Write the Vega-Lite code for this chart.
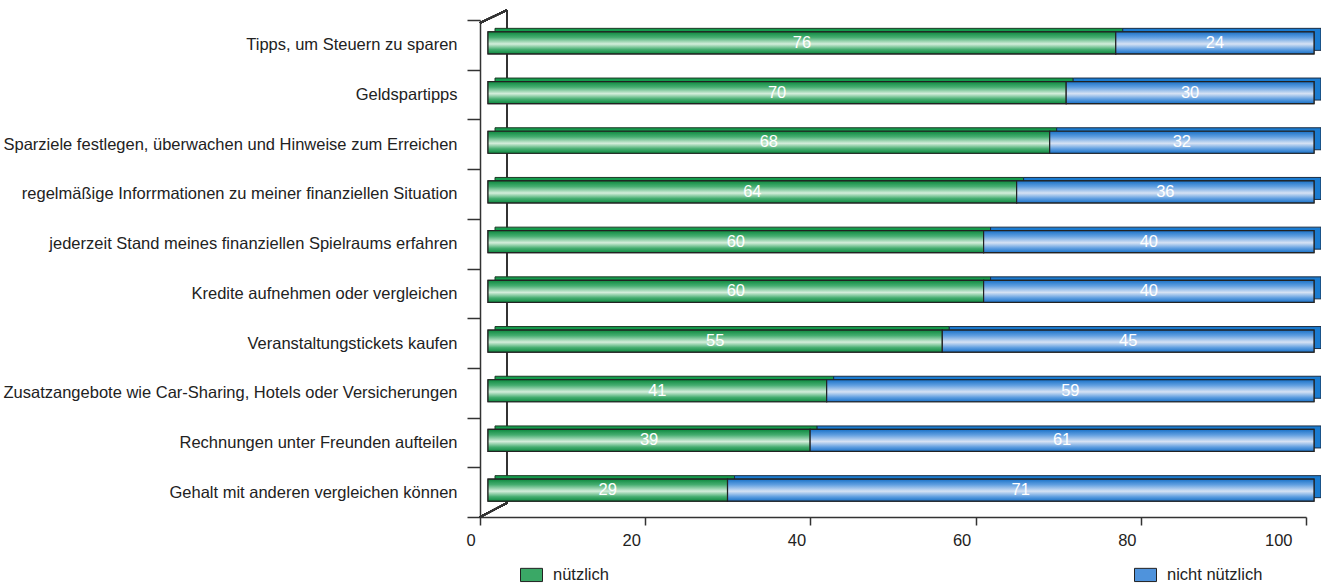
{
  "$schema": "https://vega.github.io/schema/vega-lite/v6.json",
  "width": 826,
  "height": 497,
  "autosize": {"type": "none"},
  "padding": {"left": 480, "top": 20, "right": 15, "bottom": 68},
  "background": "white",
  "config": {
    "view": {"stroke": null},
    "font": "Liberation Sans",
    "axis": {"labelFont": "Liberation Sans", "labelColor": "#222", "domainColor": "#333", "tickColor": "#333", "grid": false, "title": null}
  },
  "data": {
    "values": [
      {"category": "Tipps, um Steuern zu sparen", "series": "nützlich", "value": 76},
      {"category": "Tipps, um Steuern zu sparen", "series": "nicht nützlich", "value": 24},
      {"category": "Geldspartipps", "series": "nützlich", "value": 70},
      {"category": "Geldspartipps", "series": "nicht nützlich", "value": 30},
      {"category": "Sparziele festlegen, überwachen und Hinweise zum Erreichen", "series": "nützlich", "value": 68},
      {"category": "Sparziele festlegen, überwachen und Hinweise zum Erreichen", "series": "nicht nützlich", "value": 32},
      {"category": "regelmäßige Inforrmationen zu meiner finanziellen Situation", "series": "nützlich", "value": 64},
      {"category": "regelmäßige Inforrmationen zu meiner finanziellen Situation", "series": "nicht nützlich", "value": 36},
      {"category": "jederzeit Stand meines finanziellen Spielraums erfahren", "series": "nützlich", "value": 60},
      {"category": "jederzeit Stand meines finanziellen Spielraums erfahren", "series": "nicht nützlich", "value": 40},
      {"category": "Kredite aufnehmen oder vergleichen", "series": "nützlich", "value": 60},
      {"category": "Kredite aufnehmen oder vergleichen", "series": "nicht nützlich", "value": 40},
      {"category": "Veranstaltungstickets kaufen", "series": "nützlich", "value": 55},
      {"category": "Veranstaltungstickets kaufen", "series": "nicht nützlich", "value": 45},
      {"category": "Zusatzangebote wie Car-Sharing, Hotels oder Versicherungen", "series": "nützlich", "value": 41},
      {"category": "Zusatzangebote wie Car-Sharing, Hotels oder Versicherungen", "series": "nicht nützlich", "value": 59},
      {"category": "Rechnungen unter Freunden aufteilen", "series": "nützlich", "value": 39},
      {"category": "Rechnungen unter Freunden aufteilen", "series": "nicht nützlich", "value": 61},
      {"category": "Gehalt mit anderen vergleichen können", "series": "nützlich", "value": 29},
      {"category": "Gehalt mit anderen vergleichen können", "series": "nicht nützlich", "value": 71}
    ]
  },
  "transform": [
    {"stack": "value", "groupby": ["category"], "sort": [{"field": "series", "order": "descending"}], "as": ["v0", "v1"]},
    {"calculate": "(datum.v0 + datum.v1) / 2", "as": "mid"}
  ],
  "encoding": {
    "y": {"field": "category", "type": "nominal", "sort": null,
      "scale": {"paddingInner": 0, "paddingOuter": 0,
        "domain": ["Tipps, um Steuern zu sparen", "Geldspartipps", "Sparziele festlegen, überwachen und Hinweise zum Erreichen", "regelmäßige Inforrmationen zu meiner finanziellen Situation", "jederzeit Stand meines finanziellen Spielraums erfahren", "Kredite aufnehmen oder vergleichen", "Veranstaltungstickets kaufen", "Zusatzangebote wie Car-Sharing, Hotels oder Versicherungen", "Rechnungen unter Freunden aufteilen", "Gehalt mit anderen vergleichen können"]},
      "axis": {"tickBand": "extent", "tickSize": 13, "labelPadding": 10, "labelFontSize": 16.5, "labelLimit": 600, "domainWidth": 1.5, "tickWidth": 1.5}}
  },
  "layer": [
    {
      "mark": {"type": "rule", "color": "#333", "strokeWidth": 1.5, "xOffset": 27, "yOffset": -10, "y2Offset": -14},
      "encoding": {
        "x": {"datum": 0, "type": "quantitative"},
        "y": {"datum": "Tipps, um Steuern zu sparen", "type": "nominal", "bandPosition": 0},
        "y2": {"datum": "Gehalt mit anderen vergleichen können", "bandPosition": 1}
      }
    },
    {
      "mark": {"type": "rule", "color": "#333", "strokeWidth": 1.5, "yOffset": 3, "y2Offset": -10, "x2Offset": 27},
      "encoding": {
        "x": {"datum": 0, "type": "quantitative"},
        "x2": {"datum": 0},
        "y": {"datum": "Tipps, um Steuern zu sparen", "type": "nominal", "bandPosition": 0},
        "y2": {"datum": "Tipps, um Steuern zu sparen", "bandPosition": 0}
      }
    },
    {
      "mark": {"type": "rule", "color": "#333", "strokeWidth": 1.5, "y2Offset": -14, "x2Offset": 27},
      "encoding": {
        "x": {"datum": 0, "type": "quantitative"},
        "x2": {"datum": 0},
        "y": {"datum": "Gehalt mit anderen vergleichen können", "type": "nominal", "bandPosition": 1},
        "y2": {"datum": "Gehalt mit anderen vergleichen können", "bandPosition": 1}
      }
    },
    {
      "transform": [{"filter": "datum.series === 'nützlich'"}],
      "mark": {"type": "bar", "height": 22, "xOffset": 15, "x2Offset": 15, "yOffset": -5.5, "fill": "#149b4c", "stroke": "#1d3a26", "strokeWidth": 1},
      "encoding": {
        "x": {"field": "v0", "type": "quantitative", "scale": {"domain": [0, 100], "nice": false},
          "axis": {"values": [0, 20, 40, 60, 80, 100], "tickSize": 8, "labelPadding": 7, "labelOffset": -14, "labelFontSize": 16.5, "domainWidth": 1.5, "tickWidth": 1.5}},
        "x2": {"field": "v1"}
      }
    },
    {
      "transform": [{"filter": "datum.series === 'nicht nützlich'"}],
      "mark": {"type": "bar", "height": 22, "xOffset": 15, "x2Offset": 15, "yOffset": -5.5, "fill": "#1a7bd0", "stroke": "#1b2e45", "strokeWidth": 1},
      "encoding": {
        "x": {"field": "v0", "type": "quantitative"},
        "x2": {"field": "v1"}
      }
    },
    {
      "mark": {"type": "bar", "height": 22, "xOffset": 8, "x2Offset": 8, "yOffset": -2, "stroke": "#222", "strokeWidth": 1.2, "opacity": 1},
      "encoding": {
        "x": {"field": "v0", "type": "quantitative"},
        "x2": {"field": "v1"},
        "color": {"field": "series", "type": "nominal",
          "scale": {"domain": ["nützlich", "nicht nützlich"], "range": ["#3aa866", "#4f93dc"]},
          "legend": {"orient": "none", "legendX": 40, "legendY": 543, "direction": "horizontal", "title": null,
            "symbolType": "M-1,-0.6H1V0.6H-1Z", "symbolSize": 484, "symbolStrokeColor": "#222", "symbolStrokeWidth": 1, "symbolOpacity": 1,
            "labelFontSize": 16.5, "labelFont": "Liberation Sans", "labelColor": "#222", "labelOffset": 10, "columnPadding": 523}}
      }
    },
    {
      "transform": [{"filter": "datum.series === 'nützlich'"}],
      "mark": {"type": "bar", "height": 22, "xOffset": 8, "x2Offset": 8, "yOffset": -2, "stroke": "#222", "strokeWidth": 1.2,
        "fill": {"gradient": "linear", "x1": 0, "y1": 0, "x2": 0, "y2": 1, "stops": [{"offset": 0, "color": "#0e8a40"}, {"offset": 0.25, "color": "#45ad70"}, {"offset": 0.55, "color": "#d4eedb"}, {"offset": 0.8, "color": "#45ad70"}, {"offset": 1, "color": "#0e8a40"}]}},
      "encoding": {
        "x": {"field": "v0", "type": "quantitative"},
        "x2": {"field": "v1"}
      }
    },
    {
      "transform": [{"filter": "datum.series === 'nicht nützlich'"}],
      "mark": {"type": "bar", "height": 22, "xOffset": 8, "x2Offset": 8, "yOffset": -2, "stroke": "#222", "strokeWidth": 1.2,
        "fill": {"gradient": "linear", "x1": 0, "y1": 0, "x2": 0, "y2": 1, "stops": [{"offset": 0, "color": "#1a72c8"}, {"offset": 0.25, "color": "#5f9ee0"}, {"offset": 0.55, "color": "#d6e2f4"}, {"offset": 0.8, "color": "#5f9ee0"}, {"offset": 1, "color": "#1a72c8"}]}},
      "encoding": {
        "x": {"field": "v0", "type": "quantitative"},
        "x2": {"field": "v1"}
      }
    },
    {
      "mark": {"type": "text", "color": "white", "fontSize": 16.5, "yOffset": -2, "xOffset": 8, "baseline": "middle"},
      "encoding": {
        "x": {"field": "mid", "type": "quantitative"},
        "text": {"field": "value", "type": "quantitative"}
      }
    }
  ]
}
